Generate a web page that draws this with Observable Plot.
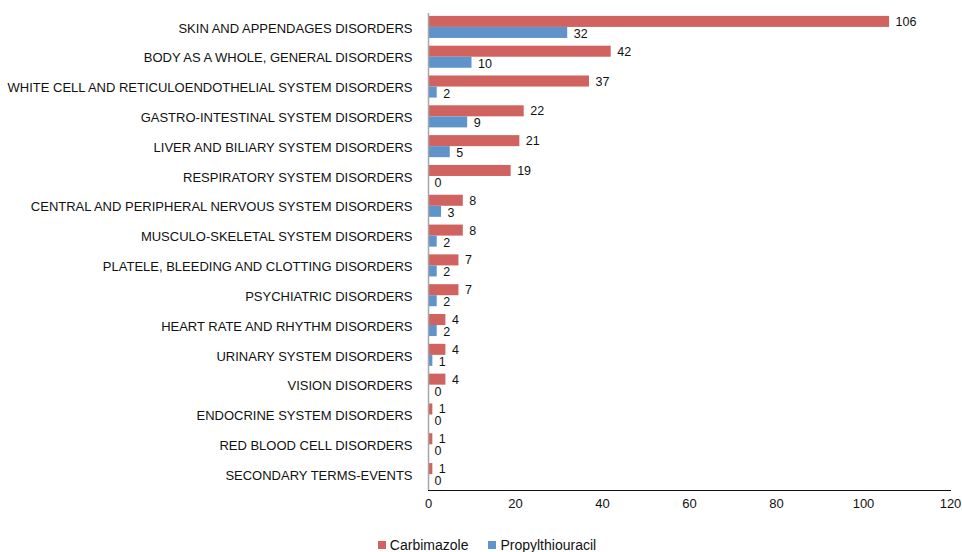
<!DOCTYPE html>
<html><head><meta charset="utf-8">
<script src="https://cdn.jsdelivr.net/npm/d3@7"></script>
<script src="https://cdn.jsdelivr.net/npm/@observablehq/plot@0.6"></script>
<style>
body{margin:0;background:#fff;font-family:"Liberation Sans",Arial,sans-serif;}
#chart svg{display:block;}
#legend{display:flex;justify-content:center;align-items:center;font-size:14px;color:#111;margin-left:12px;height:30px;}
#legend .sw{display:inline-block;width:8px;height:8px;margin-right:4px;}
#legend span.item{margin:0 10px;display:inline-flex;align-items:center;}
</style></head>
<body>
<div id="chart"></div>
<div id="legend"></div>
<script>
const categories = [
  "SKIN AND APPENDAGES DISORDERS",
  "BODY AS A WHOLE, GENERAL DISORDERS",
  "WHITE CELL AND RETICULOENDOTHELIAL SYSTEM DISORDERS",
  "GASTRO-INTESTINAL SYSTEM DISORDERS",
  "LIVER AND BILIARY SYSTEM DISORDERS",
  "RESPIRATORY SYSTEM DISORDERS",
  "CENTRAL AND PERIPHERAL NERVOUS SYSTEM DISORDERS",
  "MUSCULO-SKELETAL SYSTEM DISORDERS",
  "PLATELE, BLEEDING AND CLOTTING DISORDERS",
  "PSYCHIATRIC DISORDERS",
  "HEART RATE AND RHYTHM DISORDERS",
  "URINARY SYSTEM DISORDERS",
  "VISION DISORDERS",
  "ENDOCRINE SYSTEM DISORDERS",
  "RED BLOOD CELL DISORDERS",
  "SECONDARY TERMS-EVENTS"
];
const carbimazole = [106, 42, 37, 22, 21, 19, 8, 8, 7, 7, 4, 4, 4, 1, 1, 1];
const propylthiouracil = [32, 10, 2, 9, 5, 0, 3, 2, 2, 2, 2, 1, 0, 0, 0, 0];
const seriesNames = ["Carbimazole", "Propylthiouracil"];
const xTicks = [0, 20, 40, 60, 80, 100, 120];

const colors = ["#D0625F", "#5F93CB"];
const dataC = categories.map((c, i) => ({cat: c, v: carbimazole[i]}));
const dataP = categories.map((c, i) => ({cat: c, v: propylthiouracil[i]}));

const H = 530, mt = 13, mb = 40;
const bw = (H - mt - mb) / categories.length;
const barH = bw * 0.37;
const off = (bw - 2 * barH) / 2 - 1;

const chart = Plot.plot({
  width: 962,
  height: H,
  marginTop: mt,
  marginBottom: mb,
  marginLeft: 428,
  marginRight: 12,
  style: {fontFamily: "Liberation Sans, Arial, sans-serif", fontSize: "13px", color: "#111", background: "#fff"},
  x: {domain: [0, 120], ticks: xTicks, tickSize: 0, tickPadding: 8, line: true, label: null},
  y: {domain: categories, padding: 0, round: false, tickSize: 0, tickPadding: 16, label: null},
  marks: [
    Plot.barX(dataC, {x: "v", y: "cat", fill: colors[0], insetTop: off, insetBottom: bw - off - barH}),
    Plot.barX(dataP, {x: "v", y: "cat", fill: colors[1], insetTop: off + barH, insetBottom: bw - off - 2 * barH}),
    Plot.text(dataC, {x: "v", y: "cat", text: d => String(d.v), dy: -barH / 2 - 1, dx: 6, textAnchor: "start", fontSize: 12.5, fill: "#111"}),
    Plot.text(dataP, {x: "v", y: "cat", text: d => String(d.v), dy: barH / 2, dx: 6, textAnchor: "start", fontSize: 12.5, fill: "#111"}),
    Plot.ruleX([0], {stroke: "#a6a6a6", strokeWidth: 1.5})
  ]
});
chart.querySelectorAll("[aria-label='x-axis'] path, [aria-label='x-axis line'] path, path.domain").forEach(p => p.setAttribute("stroke", "#a6a6a6"));
document.getElementById("chart").appendChild(chart);

const lg = document.getElementById("legend");
seriesNames.forEach((n, i) => {
  const s = document.createElement("span");
  s.className = "item";
  s.innerHTML = `<span class="sw" style="background:${colors[i]}"></span>${n}`;
  lg.appendChild(s);
});
</script>
</body></html>
